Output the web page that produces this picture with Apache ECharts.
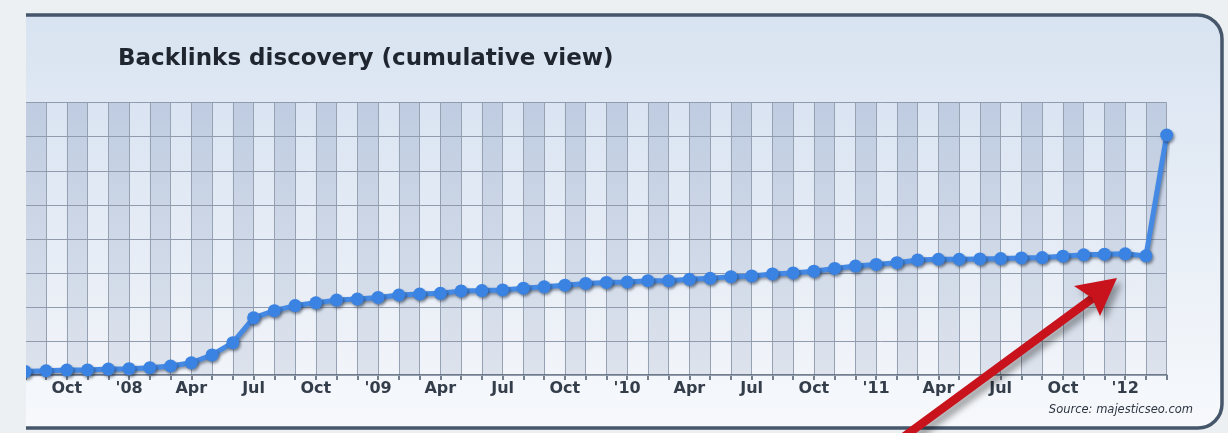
<!DOCTYPE html>
<html>
<head>
<meta charset="utf-8">
<script src="https://cdn.jsdelivr.net/npm/echarts@6/dist/echarts.min.js"></script>
<style>
  html, body { margin: 0; padding: 0; background: #edf0f3; }
  #chart-backlinks { width: 1228px; height: 433px; }
</style>
</head>
<body>
<div id="chart-backlinks"></div>
<script>
// months Aug 2007 .. Mar 2012, one point per month
const months = [
  'Aug', 'Sep', 'Oct', 'Nov', 'Dec',
  "'08", 'Feb', 'Mar', 'Apr', 'May', 'Jun', 'Jul', 'Aug', 'Sep', 'Oct', 'Nov', 'Dec',
  "'09", 'Feb', 'Mar', 'Apr', 'May', 'Jun', 'Jul', 'Aug', 'Sep', 'Oct', 'Nov', 'Dec',
  "'10", 'Feb', 'Mar', 'Apr', 'May', 'Jun', 'Jul', 'Aug', 'Sep', 'Oct', 'Nov', 'Dec',
  "'11", 'Feb', 'Mar', 'Apr', 'May', 'Jun', 'Jul', 'Aug', 'Sep', 'Oct', 'Nov', 'Dec',
  "'12", 'Feb', 'Mar',
];

// cumulative backlinks (y axis has no labels, arbitrary units)
const backlinks = [
  1.0, 1.25, 1.45, 1.5, 1.75,
  1.85, 2.15, 2.65, 3.6, 5.9, 9.5, 16.8, 18.9, 20.4, 21.2, 22.0, 22.3,
  22.8, 23.5, 23.8, 24.0, 24.7, 24.8, 25.0, 25.5, 25.9, 26.4, 26.9, 27.2,
  27.3, 27.7, 27.7, 28.1, 28.4, 28.9, 29.1, 29.7, 30.0, 30.5, 31.3, 32.0,
  32.5, 33.0, 33.8, 34.0, 34.0, 34.1, 34.2, 34.4, 34.5, 34.9, 35.3, 35.5,
  35.6, 35.0, 70.5,
];

const yMax = 80;
const yStep = 10;

const element = document.getElementById('chart-backlinks');
const chart = echarts.init(element, null, { width: 1228, height: 433 });

const vGrad = (top, bottom) => new echarts.graphic.LinearGradient(0, 0, 0, 1, [
  { offset: 0, color: top },
  { offset: 1, color: bottom },
]);

const arrowRed = '#c8131c';
const arrowShadow = {
  shadowColor: 'rgba(0, 0, 0, 0.35)',
  shadowBlur: 6,
  shadowOffsetX: 5,
  shadowOffsetY: 5,
};

chart.setOption({
  backgroundColor: '#edf0f3',
  animation: false,
  textStyle: {
    fontFamily: 'DejaVu Sans',
  },
  title: {
    text: 'Backlinks discovery (cumulative view)',
    left: 118,
    top: 48,
    padding: 0,
    textStyle: {
      fontFamily: 'DejaVu Sans',
      fontSize: 23,
      fontWeight: 'bold',
      color: '#1f2630',
    },
  },
  grid: {
    left: 25.3,
    right: 61.3,
    top: 102.7,
    bottom: 58,
  },
  xAxis: {
    type: 'category',
    data: months,
    boundaryGap: false,
    z: 0,
    axisLine: {
      lineStyle: { color: '#4d5868', width: 1.5 },
    },
    axisTick: {
      show: true,
      interval: 0,
      length: 5,
      lineStyle: { color: '#4d5868', width: 1.5 },
    },
    axisLabel: {
      interval: (index) => index % 3 === 2,
      margin: 6,
      fontFamily: 'DejaVu Sans',
      fontSize: 16,
      fontWeight: 'bold',
      color: '#343d4a',
    },
    splitLine: {
      show: true,
      interval: 0,
      lineStyle: { color: '#96a1b2', width: 1 },
    },
    splitArea: {
      show: true,
      interval: 0,
      areaStyle: {
        color: [vGrad('#bfcce1', '#dde3ed'), vGrad('#dae4f2', '#f1f4f9')],
      },
    },
  },
  yAxis: {
    type: 'value',
    min: 0,
    max: yMax,
    interval: yStep,
    z: 1,
    axisLabel: { show: false },
    axisLine: { show: false },
    axisTick: { show: false },
    splitLine: {
      lineStyle: { color: '#909bad', width: 1 },
    },
  },
  series: [
    {
      name: 'Backlinks',
      type: 'line',
      data: backlinks,
      symbol: 'circle',
      symbolSize: 13,
      z: 5,
      lineStyle: {
        color: '#4489e4',
        width: 5,
        shadowColor: 'rgba(20, 35, 60, 0.45)',
        shadowBlur: 3,
        shadowOffsetX: 1.5,
        shadowOffsetY: 2,
      },
      itemStyle: {
        color: '#3a83e3',
        shadowColor: 'rgba(20, 35, 60, 0.5)',
        shadowBlur: 3,
        shadowOffsetX: 1.5,
        shadowOffsetY: 2,
      },
    },
  ],
  graphic: [
    {
      // the chart panel (cropped on the left)
      type: 'rect',
      z: -10,
      silent: true,
      shape: { x: -20, y: 15, width: 1242, height: 413, r: 24 },
      style: {
        fill: vGrad('#d8e3f1', '#f7f9fc'),
        stroke: '#46566b',
        lineWidth: 3.5,
      },
    },
    {
      // page strip left of the crop
      type: 'rect',
      z: 100,
      silent: true,
      shape: { x: 0, y: 0, width: 26, height: 433 },
      style: { fill: '#edf0f3' },
    },
    {
      type: 'text',
      z: 100,
      silent: true,
      style: {
        x: 1193,
        y: 410,
        text: 'Source: majesticseo.com',
        align: 'right',
        verticalAlign: 'middle',
        fontFamily: 'DejaVu Sans',
        fontStyle: 'italic',
        fontSize: 11.5,
        fill: '#2f3742',
      },
    },
    {
      // red annotation arrow
      type: 'group',
      z: 100,
      silent: true,
      children: [
        {
          type: 'line',
          z: 100,
          shape: { x1: 894, y1: 444, x2: 1097, y2: 295 },
          style: Object.assign({ stroke: arrowRed, lineWidth: 8.5 }, arrowShadow),
        },
        {
          type: 'polygon',
          z: 101,
          shape: {
            points: [[1117, 278], [1074, 286], [1092, 298], [1100, 316]],
          },
          style: Object.assign({ fill: arrowRed }, arrowShadow),
        },
      ],
    },
  ],
});
</script>
</body>
</html>
